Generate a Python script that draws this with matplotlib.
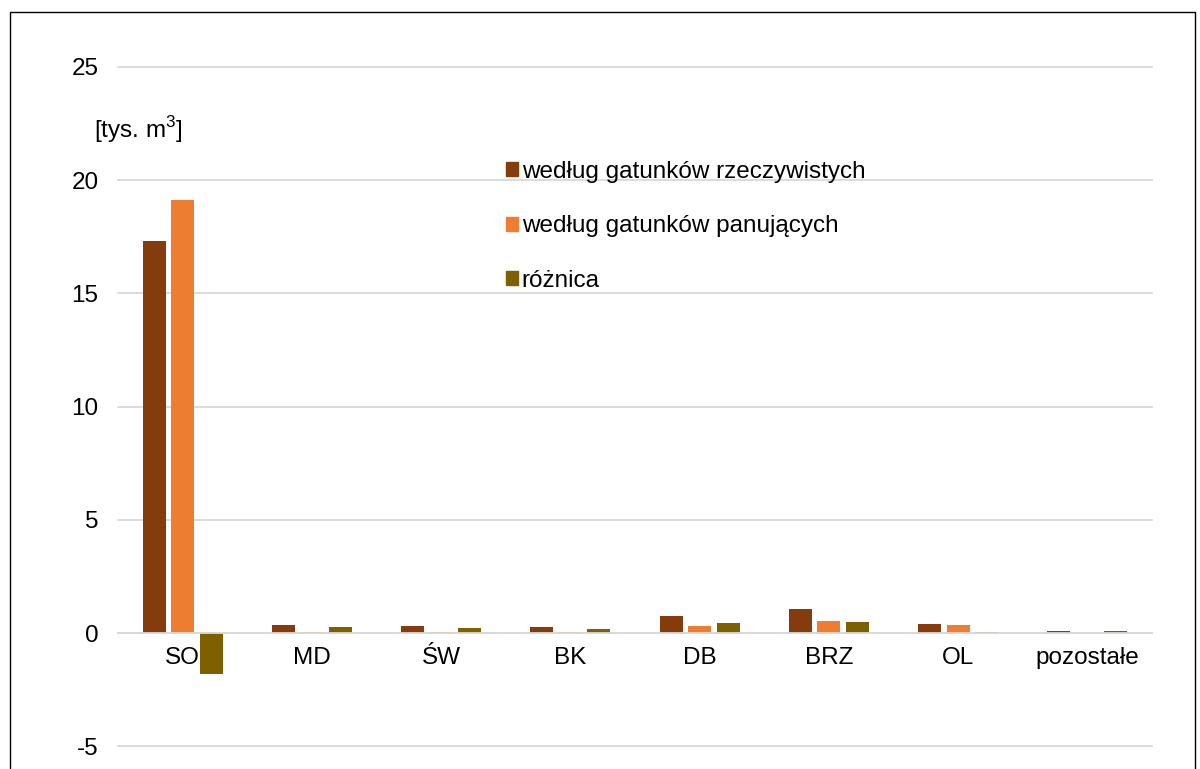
import matplotlib
matplotlib.use('Agg')
import matplotlib.pyplot as plt
import numpy as np
from matplotlib.patches import Patch, Rectangle

plt.rcParams['font.family'] = ['Liberation Sans', 'DejaVu Sans']
plt.rcParams['mathtext.fontset'] = 'custom'
plt.rcParams['mathtext.rm'] = 'Liberation Sans'

categories = ['SO', 'MD', 'ŚW', 'BK', 'DB', 'BRZ', 'OL', 'pozostałe']
real = [17.31, 0.35, 0.31, 0.25, 0.76, 1.05, 0.41, 0.09]
dominant = [19.12, 0.06, 0.03, 0.06, 0.32, 0.54, 0.35, 0.02]
diff = [-1.81, 0.27, 0.22, 0.16, 0.43, 0.50, 0.06, 0.07]
labels = ['według gatunków rzeczywistych', 'według gatunków panujących', 'różnica']
colors = ['#843C0C', '#ED7D31', '#7F6000']
yticks = [-5, 0, 5, 10, 15, 20, 25]
fs = 17.5

fig = plt.figure(figsize=(12, 7.69), dpi=100)
ax = fig.add_axes([118 / 1200, 1 - 766.6 / 769, (1152 - 118) / 1200, (766.6 - 67) / 769])

x = np.arange(len(categories))
w = 0.178
pitch = 0.22
for i, (vals, c) in enumerate(zip([real, dominant, diff], colors)):
    ax.bar(x + (i - 1) * pitch, vals, width=w, color=c, zorder=2)

ax.set_xlim(-0.5, len(categories) - 0.5)
ax.set_ylim(-5.9, 25)
for s in ['top', 'right', 'left']:
    ax.spines[s].set_visible(False)
ax.spines['bottom'].set_position(('data', 0))
ax.spines['bottom'].set_color('#D9D9D9')
ax.spines['bottom'].set_linewidth(1.3)

ax.set_yticks(yticks)
ax.set_yticklabels([str(t) for t in yticks])
ax.set_xticks(x)
ax.set_xticklabels(categories)
ax.yaxis.grid(True, color='#D9D9D9', linewidth=1.3, clip_on=False)
ax.set_axisbelow(True)
ax.tick_params(axis='y', length=0, pad=14, labelsize=fs)
ax.tick_params(axis='x', length=0, pad=10, labelsize=fs)

fig.text(94 / 1200, 1 - 130 / 769, r'[tys. m$^\mathregular{3}$]', fontsize=fs, va='center', ha='left')

handles = [Patch(color=c) for c in colors]
fig.legend(handles, labels, loc='upper left', bbox_to_anchor=(506 / 1200, 1 - 161 / 769),
           frameon=False, fontsize=fs, handlelength=0.5, handleheight=0.5,
           handletextpad=0.15, labelspacing=1.33, borderpad=0, borderaxespad=0)

fig.patches.append(Rectangle((10 / 1200, -0.1), (1195 - 10) / 1200, 1.1 - 12 / 769,
                             transform=fig.transFigure, fill=False, edgecolor='black', linewidth=1))

fig.savefig('out.png', dpi=100)
